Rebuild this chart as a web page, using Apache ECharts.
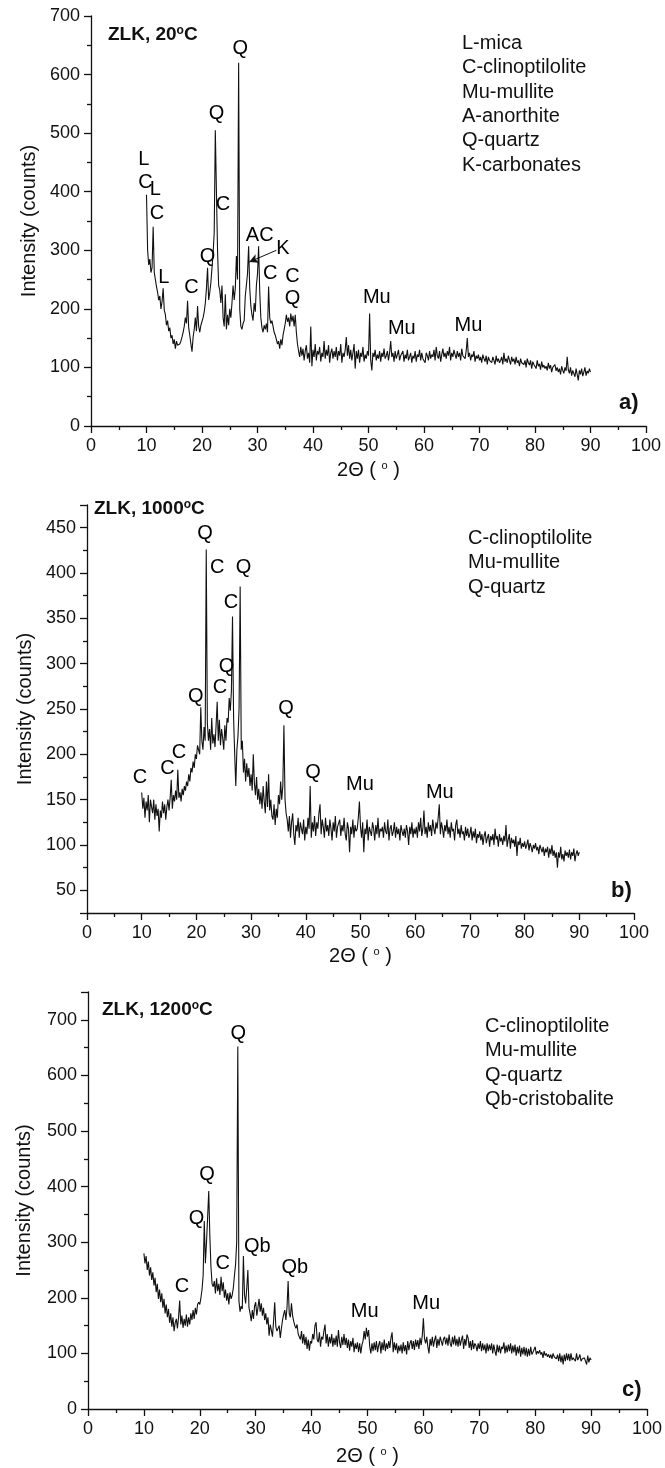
<!DOCTYPE html>
<html><head><meta charset="utf-8">
<script src="https://cdn.jsdelivr.net/npm/echarts@6/dist/echarts.min.js"></script>
<style>html,body{margin:0;padding:0;background:#fff}#c{width:665px;height:1468px}</style>
</head><body><div id="c"></div>
<script>
// 2-theta sampling of the scans
const X_START = 10, X_STEP = 0.2;

// ZLK, 20°C
const intensity20 = [
395,300,275,285,262,270,340,262,250,238,
228,215,222,200,212,235,198,190,172,180,
162,168,150,155,140,148,132,145,138,140,
140,145,152,160,170,185,175,214,168,155,
140,127,152,165,185,162,205,170,160,172,
175,185,195,210,235,270,215,228,245,270,
295,330,505,400,300,240,232,210,240,185,
170,225,165,190,172,200,185,210,240,215,
235,290,250,620,200,170,165,175,180,222,
225,260,307,235,205,190,180,210,195,240,
260,307,230,185,168,160,172,165,175,160,
238,185,175,180,170,160,155,148,140,145,
132,148,138,155,165,175,190,178,185,170,
192,178,188,170,190,160,140,128,118,135,
120,132,112,128,138,115,125,108,170,102,
130,118,140,112,128,122,135,110,125,118,
145,115,130,120,138,108,125,132,115,128,
118,135,112,128,120,140,108,125,118,130,
152,120,138,115,130,112,125,140,98,128,
115,130,108,125,118,135,110,122,115,128,
120,192,112,95,125,118,130,112,122,115,
128,110,125,118,132,115,120,128,112,125,
145,118,125,110,128,115,122,130,112,120,
118,128,110,122,115,130,112,118,125,108,
120,115,128,110,122,118,130,112,125,115,
118,108,125,120,112,128,115,122,118,130,
112,135,120,115,128,110,122,132,118,125,
115,128,120,135,112,125,118,130,122,115,
128,118,125,112,132,120,122,115,128,150,
118,125,112,122,118,128,110,120,115,122,
112,118,108,122,115,110,120,105,118,112,
115,108,118,112,105,120,110,115,108,112,
118,105,125,110,115,108,120,112,105,118,
110,115,105,118,108,112,102,115,108,110,
105,112,100,115,108,104,112,98,110,105,
108,98,112,102,106,96,110,100,104,98,
102,95,108,98,104,92,100,97,105,94,
100,92,98,88,102,95,90,100,94,118,
96,90,100,86,95,92,84,98,88,78,
95,88,98,85,92,100,86,94,90,98,
92];

// ZLK, 1000°C
const intensity1000 = [
158,140,152,130,148,138,155,125,150,142,
135,150,128,145,132,140,115,138,130,148,
135,145,128,142,150,138,152,172,140,155,
148,160,150,183,152,158,148,162,155,165,
160,170,165,178,170,185,180,192,185,200,
195,210,205,200,252,215,205,230,215,426,
235,215,228,205,240,212,222,208,232,258,
215,238,210,228,218,205,232,215,240,235,
262,248,270,352,240,200,165,205,220,250,
385,205,215,180,195,170,190,175,185,165,
178,160,200,168,155,175,150,162,145,158,
140,165,148,135,170,142,178,138,150,132,
128,145,122,140,130,155,145,170,150,165,
232,150,135,128,115,132,108,125,135,112,
100,122,115,130,108,125,118,112,128,105,
120,112,130,118,165,108,125,115,132,110,
125,118,135,145,112,128,120,108,130,115,
122,110,128,118,105,125,115,132,108,120,
118,128,110,122,115,130,112,105,125,118,
92,120,112,128,108,122,115,118,130,148,
120,108,125,92,118,112,128,105,120,115,
110,125,118,105,122,112,130,108,118,115,
120,108,125,115,112,128,105,118,122,110,
115,125,108,120,112,118,105,122,115,110,
118,108,122,115,100,120,112,125,108,118,
112,120,108,125,115,130,110,118,138,112,
120,108,125,115,122,110,128,118,112,125,
118,130,145,112,125,118,108,122,115,128,
112,120,108,125,115,118,105,122,128,112,
118,108,122,112,115,105,120,110,118,108,
112,120,105,115,108,118,102,112,108,115,
105,112,100,110,115,102,108,112,98,110,
105,112,100,118,106,110,98,112,104,108,
100,110,104,122,98,106,112,96,108,102,
106,98,110,88,104,100,108,96,102,98,
104,96,100,106,94,102,98,92,100,96,
102,94,98,90,100,96,92,98,88,96,
92,98,86,96,90,100,88,94,86,92,
75,92,86,98,84,90,82,94,88,92,
86,95,84,92,88,96,82,90,94,88,
92];

// ZLK, 1200°C
const intensity1200 = [
280,262,275,250,265,240,255,232,246,222,
236,210,225,198,215,192,208,182,198,172,
188,165,180,155,172,148,165,140,155,162,
145,165,195,152,168,146,162,150,170,148,
165,152,172,160,178,162,182,170,188,192,
188,200,215,240,338,262,300,345,392,310,
255,225,220,230,208,235,212,225,205,238,
212,228,200,215,195,208,188,210,198,205,
218,240,260,300,652,195,175,185,180,275,
205,190,218,250,182,172,158,178,162,185,
192,168,182,198,175,190,168,182,160,172,
152,165,132,152,142,130,158,192,148,140,
138,150,128,145,160,170,178,160,182,230,
172,165,190,168,158,150,145,152,135,130,
125,140,118,135,115,130,108,125,105,122,
118,135,125,150,156,125,120,138,112,130,
125,140,152,118,135,112,130,118,135,112,
128,115,132,112,142,120,110,130,115,135,
115,128,110,125,105,122,112,128,102,118,
108,120,102,118,100,115,122,140,125,146,
130,142,112,100,118,104,120,106,122,102,
115,122,100,120,106,125,104,118,108,122,
110,128,138,102,120,106,118,100,114,104,
116,100,120,104,115,98,122,106,118,124,
108,122,106,125,112,124,108,128,115,132,
163,126,118,130,112,100,126,114,130,112,
124,132,110,126,114,130,132,114,126,130,
116,128,114,134,118,112,130,116,132,114,
126,112,130,114,124,132,108,126,114,134,
128,110,122,106,124,108,118,114,104,118,
108,122,104,118,106,116,100,118,104,116,
106,118,100,116,104,96,116,102,114,100,
112,108,120,100,114,102,116,104,118,100,
114,102,116,96,112,100,114,94,110,98,
112,96,110,94,108,96,112,98,102,100,
112,98,104,100,106,98,102,92,104,96,
100,94,98,92,98,90,100,94,96,90,
98,86,100,84,96,80,98,86,100,88,
99,86,100,88,92,90,86,100,88,92,
98,86,90,88,92,94,80,96,84,92,
88];

// phase labels: [2theta, intensity, text]
const labels20 = [[9.5,455,'L'],[9.8,415,'C'],[11.6,404,'L'],[11.9,363,'C'],[13.1,254,'L'],[18.1,237,'C'],
  [21,290,'Q'],[22.6,534,'Q'],[23.8,379,'C'],[26.9,645,'Q'],[30.4,326,'AC'],[34.6,303,'K'],[32.3,261,'C'],
  [36.3,256,'C'],[36.3,217,'Q'],[51.5,220,'Mu'],[56,167,'Mu'],[68,172,'Mu']];
const arrow20 = [[33.4,300],[28.5,280]];
const labels1000 = [[9.7,175,'C'],[14.7,184,'C'],[16.8,202,'C'],[19.9,264,'Q'],[21.6,444,'Q'],[23.8,406,'C'],
  [28.6,406,'Q'],[26.3,367,'C'],[25.5,297,'Q'],[24.3,274,'C'],[36.4,251,'Q'],[41.3,180,'Q'],[49.9,167,'Mu'],[64.5,158,'Mu']];
const labels1200 = [[16.8,220,'C'],[19.4,343,'Q'],[21.3,421,'Q'],[24.1,262,'C'],[30.3,293,'Qb'],[37.0,255,'Qb'],
  [49.5,175,'Mu'],[60.5,190,'Mu'],[26.9,676,'Q']];

const panelTitles = ['ZLK, 20{s|o}C','ZLK, 1000{s|o}C','ZLK, 1200{s|o}C'];
const legends = [
  ['L-mica','C-clinoptilolite','Mu-mullite','A-anorthite','Q-quartz','K-carbonates'],
  ['C-clinoptilolite','Mu-mullite','Q-quartz'],
  ['C-clinoptilolite','Mu-mullite','Q-quartz','Qb-cristobalite']];
const tags = ['a)','b)','c)'];
const yRanges = [[0,700],[25,475],[0,750]];

const FF = 'Liberation Sans, Arial, sans-serif';
const INK = '#111';
const grids = [
  {left:91, top:16, width:555, height:410},
  {left:87, top:505, width:547, height:408},
  {left:88, top:992, width:561, height:417}];
const titlePos = [[108,25],[94,499],[102,1000]];
const legendPos = [[462,31],[468,526],[485,1014]];
const tagPos = [[619,392],[611,880],[622,1379]];
const xNameGap = [34,33,37];

const toXY = arr => arr.map((v,i)=>[+(X_START+i*X_STEP).toFixed(1), v]);
const scans = [intensity20, intensity1000, intensity1200];
const labelSets = [labels20, labels1000, labels1200];

const title = [];
for (let i=0;i<3;i++){
  title.push({text:panelTitles[i], left:titlePos[i][0], top:titlePos[i][1], padding:0,
    textStyle:{fontFamily:FF, fontSize:19, fontWeight:'bold', color:INK,
      rich:{s:{fontFamily:FF, fontSize:12, fontWeight:'bold', color:INK, verticalAlign:'top', lineHeight:12}}}});
  title.push({text:legends[i].join('\n'), left:legendPos[i][0], top:legendPos[i][1], padding:0,
    textStyle:{fontFamily:FF, fontSize:20, fontWeight:'normal', color:INK, lineHeight:24.4}});
  title.push({text:tags[i], left:tagPos[i][0], top:tagPos[i][1], padding:0,
    textStyle:{fontFamily:FF, fontSize:22, fontWeight:'bold', color:INK}});
}

const axisLineStyle = {color:INK, width:1.3};
const xAxis = [0,1,2].map(i=>({
  gridIndex:i, type:'value', min:0, max:100, interval:10,
  axisLine:{show:true, onZero:false, lineStyle:axisLineStyle},
  axisTick:{show:true, length:7, lineStyle:axisLineStyle},
  minorTick:{show:true, splitNumber:2, length:4, lineStyle:axisLineStyle},
  splitLine:{show:false}, minorSplitLine:{show:false},
  axisLabel:{fontFamily:FF, fontSize:18, color:INK, margin:11},
  name:'2Θ ( {s|o} )', nameLocation:'middle', nameGap:xNameGap[i],
  nameTextStyle:{fontFamily:FF, fontSize:20, color:INK,
    rich:{s:{fontFamily:FF, fontSize:11, color:INK, verticalAlign:'top', lineHeight:11}}}
}));
const yAxis = [0,1,2].map(i=>{
  const a = {
    gridIndex:i, type:'value', min:yRanges[i][0], max:yRanges[i][1],
    axisLine:{show:true, onZero:false, lineStyle:axisLineStyle},
    axisTick:{show:true, length:7, lineStyle:axisLineStyle},
    minorTick:{show:true, splitNumber:2, length:4, lineStyle:axisLineStyle},
    splitLine:{show:false}, minorSplitLine:{show:false},
    axisLabel:{fontFamily:FF, fontSize:18, color:INK, margin:11, showMaxLabel: i!==2},
    name:'Intensity (counts)', nameLocation:'middle', nameGap:[51,49,54][i],
    nameTextStyle:{fontFamily:FF, fontSize:20, color:INK}
  };
  if (i===1){ a.splitNumber=9; a.minInterval=50; a.maxInterval=50; a.axisLabel.showMinLabel=false; a.axisLabel.showMaxLabel=false; }
  else { a.interval=100; }
  return a;
});

const series = [];
for (let i=0;i<3;i++){
  const s = {type:'line', xAxisIndex:i, yAxisIndex:i, data:toXY(scans[i]), showSymbol:false, symbol:'none',
    lineStyle:{color:INK, width:1.1}, silent:true, z:2};
  if (i===0){
    s.markLine = {silent:true, symbol:['none','arrow'], symbolSize:[7,9],
      lineStyle:{color:INK, width:1, type:'solid'}, label:{show:false},
      data:[[{coord:arrow20[0]},{coord:arrow20[1]}]]};
  }
  series.push(s);
  series.push({type:'scatter', xAxisIndex:i, yAxisIndex:i, data:labelSets[i], symbolSize:1,
    itemStyle:{color:'#fff', opacity:0}, silent:true, z:3,
    label:{show:true, position:'inside', formatter:p=>p.data[2], fontFamily:FF, fontSize:20, color:'#000', opacity:1}});
}

const chart = echarts.init(document.getElementById('c'), null, {renderer:'canvas'});
chart.setOption({animation:false, backgroundColor:'#fff', title, grid:grids, xAxis, yAxis, series});
</script></body></html>
